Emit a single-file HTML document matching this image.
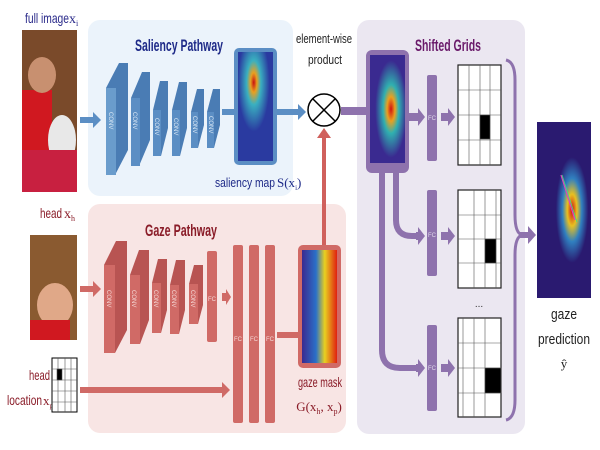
<!DOCTYPE html>
<html><head><meta charset="utf-8"><style>
html,body{margin:0;padding:0;background:#fff;}
svg{display:block;font-family:"Liberation Sans",sans-serif;}
</style></head><body>
<svg width="600" height="450" viewBox="0 0 600 450">
<defs>
<radialGradient id="hs1" cx="0.45" cy="0.28" r="0.45"><stop offset="0" stop-color="#c81010"/><stop offset="0.2" stop-color="#e8a020"/><stop offset="0.45" stop-color="#3ab0c0"/><stop offset="1" stop-color="#2a3aa0"/></radialGradient>
<linearGradient id="gm" x1="0" y1="0" x2="1" y2="0"><stop offset="0" stop-color="#3a2a90"/><stop offset="0.4" stop-color="#2a70c8"/><stop offset="0.65" stop-color="#e8d020"/><stop offset="1" stop-color="#e02010"/></linearGradient>
<radialGradient id="hs2" cx="0.6" cy="0.5" r="0.45"><stop offset="0" stop-color="#d01010"/><stop offset="0.25" stop-color="#e8a020"/><stop offset="0.5" stop-color="#30b0b0"/><stop offset="1" stop-color="#3a2a90"/></radialGradient>
<radialGradient id="out" cx="0.65" cy="0.5" r="0.3"><stop offset="0" stop-color="#d01010"/><stop offset="0.3" stop-color="#e8c020"/><stop offset="0.6" stop-color="#3080c0"/><stop offset="1" stop-color="#2a1a70"/></radialGradient>
</defs>

<rect x="88" y="20" width="205" height="176" rx="12" fill="#ebf3fb"/>
<rect x="88" y="204" width="258" height="229" rx="12" fill="#f8e5e4"/>
<rect x="357" y="20" width="168" height="414" rx="12" fill="#ebe7f1"/>

<text x="135" y="51" textLength="88" lengthAdjust="spacingAndGlyphs" font-size="17" font-weight="bold" fill="#1e2a88">Saliency Pathway</text>
<text x="145" y="236" textLength="72" lengthAdjust="spacingAndGlyphs" font-size="17" font-weight="bold" fill="#8a1c28">Gaze Pathway</text>
<text x="415" y="51" textLength="66" lengthAdjust="spacingAndGlyphs" font-size="17" font-weight="bold" fill="#6a1a6a">Shifted Grids</text>

<text x="25" y="23" font-size="14" textLength="44" lengthAdjust="spacingAndGlyphs" fill="#2a2a8a">full image</text>
<text x="69" y="23" font-size="14" fill="#2a2a8a" font-family="Liberation Serif,serif">x<tspan font-size="8" dy="3">i</tspan></text>
<g>
<rect x="22" y="30" width="55" height="162" fill="#7a4a2a"/>
<rect x="22" y="90" width="30" height="70" fill="#d01820"/>
<ellipse cx="42" cy="75" rx="14" ry="18" fill="#c89070"/>
<ellipse cx="62" cy="140" rx="14" ry="25" fill="#e8e8e8"/>
<rect x="22" y="150" width="55" height="42" fill="#c82040"/>
</g>
<text x="40" y="218" font-size="14" textLength="22" lengthAdjust="spacingAndGlyphs" fill="#8a1c28">head</text>
<text x="64" y="218" font-size="14" fill="#8a1c28" font-family="Liberation Serif,serif">x<tspan font-size="8" dy="3">h</tspan></text>
<g>
<rect x="30" y="235" width="47" height="105" fill="#8a5a30"/>
<ellipse cx="55" cy="305" rx="18" ry="22" fill="#e0a888"/>
<rect x="30" y="320" width="40" height="20" fill="#d01820"/>
</g>
<text x="29" y="380" font-size="14" textLength="21" lengthAdjust="spacingAndGlyphs" fill="#8a1c28">head</text>
<text x="7" y="405" font-size="14" textLength="35" lengthAdjust="spacingAndGlyphs" fill="#8a1c28">location</text>
<text x="43" y="405" font-size="13" fill="#8a1c28" font-family="Liberation Serif,serif">x<tspan font-size="7" dy="3">p</tspan></text>
<g stroke="#555" stroke-width="0.6" fill="none">
<rect x="52" y="358" width="25" height="54" fill="#fff" stroke="#000" stroke-width="1"/>
<line x1="58" y1="358" x2="58" y2="412"/><line x1="65" y1="358" x2="65" y2="412"/><line x1="71" y1="358" x2="71" y2="412"/>
<line x1="52" y1="369" x2="77" y2="369"/><line x1="52" y1="380" x2="77" y2="380"/><line x1="52" y1="391" x2="77" y2="391"/><line x1="52" y1="402" x2="77" y2="402"/>
<rect x="57" y="369" width="5" height="11" fill="#000"/>
</g>

<g fill="#5b8ec4">
<polygon points="106,88 119,63 128,63 128,150 115,175 106,175" fill="#4a7cb4"/><rect x="106" y="88" width="10" height="87" fill="#6a9ccc"/>
<polygon points="131,98 142,72 150,72 150,140 139,166 131,166" fill="#4a7cb4"/><rect x="131" y="98" width="9" height="68"/>
<polygon points="153,110 160,81 168,81 168,128 161,156 153,156" fill="#4a7cb4"/><rect x="153" y="110" width="8" height="46"/>
<polygon points="172,110 179,82 187,82 187,128 180,156 172,156" fill="#4a7cb4"/><rect x="172" y="110" width="8" height="46"/>
<polygon points="191,112 197,89 204,89 204,125 198,148 191,148" fill="#4a7cb4"/><rect x="191" y="112" width="7" height="36"/>
<polygon points="207,112 213,89 220,89 220,125 214,148 207,148" fill="#4a7cb4"/><rect x="207" y="112" width="7" height="36"/>
</g>
<g font-size="6" fill="#dbe8f5">
<text transform="translate(109,112) rotate(90)">CONV</text><text transform="translate(133,112) rotate(90)">CONV</text>
<text transform="translate(155,118) rotate(90)">CONV</text><text transform="translate(174,118) rotate(90)">CONV</text>
<text transform="translate(193,116) rotate(90)">CONV</text><text transform="translate(209,116) rotate(90)">CONV</text>
</g>
<polygon points="80,117 93,117 93,112 101,120 93,128 93,123 80,123" fill="#5b8ec4"/>
<rect x="222" y="109" width="14" height="6" fill="#5b8ec4"/>
<rect x="234" y="48" width="43" height="117" rx="5" fill="#5b8ec4"/>
<rect x="238" y="52" width="35" height="109" fill="url(#hs1)"/>
<text x="215" y="187" font-size="13" textLength="60" lengthAdjust="spacingAndGlyphs" fill="#1e2a88">saliency map</text>
<text x="277" y="187" font-size="13" fill="#1e2a88" font-family="Liberation Serif,serif">S(x<tspan font-size="7" dy="3">i</tspan><tspan dy="-3">)</tspan></text>
<polygon points="277,109 298,109 298,104 306,112 298,120 298,115 277,115" fill="#5b8ec4"/>

<text x="296" y="43" font-size="13" textLength="56" lengthAdjust="spacingAndGlyphs" fill="#222">element-wise</text>
<text x="308" y="64" font-size="13" textLength="34" lengthAdjust="spacingAndGlyphs" fill="#222">product</text>
<g stroke="#000" stroke-width="1.5" fill="#fff">
<circle cx="324" cy="110" r="16"/><line x1="313" y1="99" x2="335" y2="121"/><line x1="335" y1="99" x2="313" y2="121"/>
</g>
<polygon points="322,245 322,138 317,138 324,128 331,138 326,138 326,245" fill="#d0605c"/>

<g fill="#d06a66">
<polygon points="104,265 116,241 127,241 127,330 115,353 104,353" fill="#b85452"/><rect x="104" y="265" width="11" height="88"/>
<polygon points="130,275 139,250 149,250 149,320 140,344 130,344" fill="#b85452"/><rect x="130" y="275" width="10" height="69"/>
<polygon points="152,283 158,259 167,259 167,310 161,333 152,333" fill="#b85452"/><rect x="152" y="283" width="9" height="50"/>
<polygon points="170,285 176,260 185,260 185,310 179,334 170,334" fill="#b85452"/><rect x="170" y="285" width="9" height="49"/>
<polygon points="189,284 194,265 203,265 203,305 198,324 189,324" fill="#b85452"/><rect x="189" y="284" width="9" height="40"/>
<rect x="207" y="251" width="10" height="91" rx="2"/>
<rect x="233" y="245" width="10" height="178" rx="2"/><rect x="249" y="245" width="10" height="178" rx="2"/><rect x="265" y="245" width="10" height="178" rx="2"/>
</g>
<g font-size="6" fill="#f5d8d6">
<text transform="translate(107,290) rotate(90)">CONV</text><text transform="translate(132,290) rotate(90)">CONV</text>
<text transform="translate(154,290) rotate(90)">CONV</text><text transform="translate(172,290) rotate(90)">CONV</text>
<text transform="translate(191,290) rotate(90)">CONV</text>
<text x="208" y="301">FC</text><text x="234" y="341">FC</text><text x="250" y="341">FC</text><text x="266" y="341">FC</text>
</g>
<polygon points="80,286 93,286 93,281 101,289 93,297 93,292 80,292" fill="#d06a66"/>
<polygon points="222,293 226,293 226,289 231,297 226,305 226,301 222,301" fill="#d06a66"/>
<polygon points="80,387 222,387 222,382 230,390 222,398 222,393 80,393" fill="#d06a66"/>
<rect x="277" y="332" width="22" height="6" fill="#d06a66"/>
<rect x="298" y="245" width="43" height="123" rx="5" fill="#d06a66"/>
<rect x="302" y="250" width="35" height="113" fill="url(#gm)"/>
<text x="298" y="387" font-size="14" textLength="44" lengthAdjust="spacingAndGlyphs" fill="#8a1c28">gaze mask</text>
<text x="319" y="411" text-anchor="middle" font-size="13" fill="#8a1c28" font-family="Liberation Serif,serif">G(x<tspan font-size="8" dy="3">h</tspan><tspan dy="-3">, x</tspan><tspan font-size="8" dy="3">p</tspan><tspan dy="-3">)</tspan></text>

<rect x="341" y="107" width="28" height="8" fill="#8e72ad"/>
<rect x="366" y="50" width="43" height="123" rx="6" fill="#8e72ad"/>
<rect x="370" y="55" width="35" height="108" fill="url(#hs2)"/>
<g fill="none" stroke="#8e72ad" stroke-width="6">
<path d="M396,173 V220 Q396,236 412,236 H418"/>
<path d="M382,173 V350 Q382,368 400,368 H418"/>
</g>
<g fill="#8e72ad">
<polygon points="409,113 418,113 418,108 425,117 418,126 418,121 409,121"/>
<polygon points="416,232 418,232 418,227 425,236 418,245 418,240 416,240"/>
<polygon points="416,364 418,364 418,359 425,368 418,377 418,372 416,372"/>
<rect x="427" y="75" width="10" height="86" rx="2"/><rect x="427" y="190" width="10" height="86" rx="2"/><rect x="427" y="325" width="10" height="86" rx="2"/>
<polygon points="441,113 448,113 448,108 455,117 448,126 448,121 441,121"/>
<polygon points="441,232 448,232 448,227 455,236 448,245 448,240 441,240"/>
<polygon points="441,364 448,364 448,359 455,368 448,377 448,372 441,372"/>
</g>
<g font-size="6" fill="#e0d8ea"><text x="428" y="120">FC</text><text x="428" y="237">FC</text><text x="428" y="370">FC</text></g>
<g stroke="#555" stroke-width="0.6" fill="#fff">
<rect x="458" y="65" width="43" height="100" stroke="#222" stroke-width="1.2"/>
<line x1="469" y1="65" x2="469" y2="165"/><line x1="480" y1="65" x2="480" y2="165"/><line x1="490" y1="65" x2="490" y2="165"/>
<line x1="458" y1="90" x2="501" y2="90"/><line x1="458" y1="115" x2="501" y2="115"/><line x1="458" y1="140" x2="501" y2="140"/>
<rect x="480" y="115" width="10" height="24" fill="#000"/>
</g>
<g stroke="#555" stroke-width="0.6" fill="#fff">
<rect x="458" y="190" width="43" height="98" stroke="#222" stroke-width="1.2"/>
<line x1="474" y1="190" x2="474" y2="288"/><line x1="485" y1="190" x2="485" y2="288"/><line x1="496" y1="190" x2="496" y2="288"/>
<line x1="458" y1="215" x2="501" y2="215"/><line x1="458" y1="239" x2="501" y2="239"/><line x1="458" y1="263" x2="501" y2="263"/>
<rect x="485" y="239" width="11" height="24" fill="#000"/>
</g>
<text x="479" y="307" text-anchor="middle" font-size="10" fill="#333">...</text>
<g stroke="#555" stroke-width="0.6" fill="#fff">
<rect x="458" y="318" width="43" height="99" stroke="#222" stroke-width="1.2"/>
<line x1="463" y1="318" x2="463" y2="417"/><line x1="474" y1="318" x2="474" y2="417"/><line x1="485" y1="318" x2="485" y2="417"/>
<line x1="458" y1="343" x2="501" y2="343"/><line x1="458" y1="368" x2="501" y2="368"/><line x1="458" y1="393" x2="501" y2="393"/>
<rect x="485" y="368" width="16" height="25" fill="#000"/>
</g>
<path d="M506,60 Q515,62 515,80 V215 Q515,233 522,235 Q515,237 515,255 V400 Q515,418 506,420" fill="none" stroke="#8e72ad" stroke-width="3"/>
<polygon points="520,232 528,232 528,226 536,235 528,244 528,238 520,238" fill="#8e72ad"/>
<g>
<rect x="537" y="122" width="54" height="176" fill="url(#out)"/>
<line x1="561" y1="175" x2="575" y2="220" stroke="#e040c0" stroke-width="1.2"/>
<line x1="562" y1="175" x2="577" y2="222" stroke="#40e080" stroke-width="0.8"/>
</g>
<text x="564" y="319" text-anchor="middle" font-size="15" textLength="26" lengthAdjust="spacingAndGlyphs" fill="#222">gaze</text>
<text x="564" y="344" text-anchor="middle" font-size="15" textLength="52" lengthAdjust="spacingAndGlyphs" fill="#222">prediction</text>
<text x="564" y="368" text-anchor="middle" font-size="13" fill="#222" font-family="Liberation Serif,serif">ŷ</text>
</svg>
</body></html>
